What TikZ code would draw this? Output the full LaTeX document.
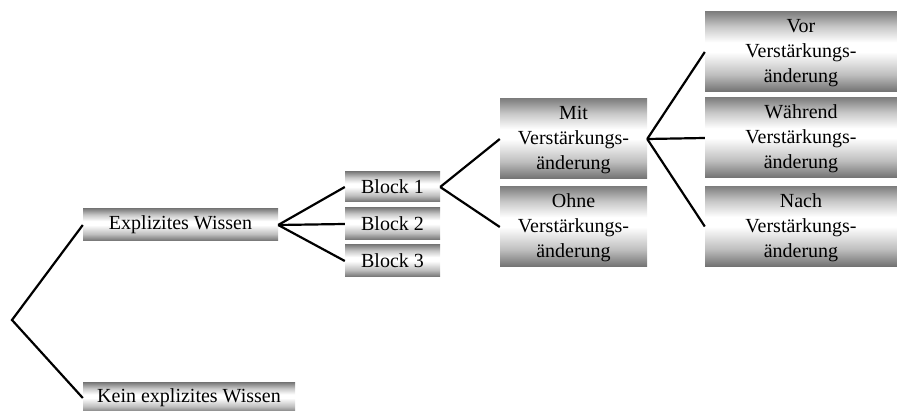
\documentclass[tikz,border=0pt]{standalone}
\usepackage{fontspec}
\setmainfont{Liberation Serif}
\colorlet{metaltop}{black!50}
\colorlet{metalbot}{black!56}
% chrome-like bar: dark edges, white band slightly above the middle
\pgfdeclareverticalshading{metalbar}{100bp}{%
  color(0bp)=(metalbot); color(25bp)=(metalbot); color(36bp)=(black!25);
  color(50bp)=(white); color(56bp)=(white); color(66bp)=(black!22);
  color(75bp)=(metaltop); color(100bp)=(metaltop)}
% a little extra room above the first line of the three-line labels
\newcommand{\firstline}{\rule{0pt}{16pt}}
\tikzset{
  bar/.style={shading=metalbar, inner sep=0pt, align=center,
    font=\fontsize{20}{25}\selectfont},
  link/.style={line width=2.2pt, black}
}
\begin{document}
\begin{tikzpicture}[x=1pt, y=-1pt]
  \useasboundingbox (0,0) rectangle (897,411);
  \begin{scope}
    \clip (0,0) rectangle (897,411);
    % first level
    \node[bar, minimum width=195pt, minimum height=32pt] (expl) at (180.5,225) {Explizites Wissen};
    \node[bar, minimum width=212pt, minimum height=30pt] (kein) at (189,398) {Kein explizites Wissen};
    % blocks
    \node[bar, minimum width=95pt, minimum height=30pt] (b1) at (392.5,187) {Block 1};
    \node[bar, minimum width=95pt, minimum height=32pt] (b2) at (392.5,224) {Block 2};
    \node[bar, minimum width=95pt, minimum height=32pt] (b3) at (392.5,261) {Block 3};
    % with / without change
    \node[bar, minimum width=147pt, minimum height=80pt] (mit) at (573.5,139) {\firstline Mit\\Verstärkungs-\\änderung};
    \node[bar, minimum width=147pt, minimum height=80pt] (ohne) at (573.5,227) {\firstline Ohne\\Verstärkungs-\\änderung};
    % timing
    \node[bar, minimum width=192pt, minimum height=80pt] (vor) at (801,52) {\firstline Vor\\Verstärkungs-\\änderung};
    \node[bar, minimum width=192pt, minimum height=80pt] (waehrend) at (801,138) {\firstline Während\\Verstärkungs-\\änderung};
    \node[bar, minimum width=192pt, minimum height=80pt] (nach) at (801,226.5) {\firstline Nach\\Verstärkungs-\\änderung};
    \coordinate (root) at (12,320);
    % connectors
    \draw[link] (expl.west) -- (root) -- (kein.west);
    \draw[link] (expl.east) -- (b1.west);
    \draw[link] (expl.east) -- (b2.west);
    \draw[link] (expl.east) -- (b3.west);
    \draw[link] (b1.east) -- (mit.west);
    \draw[link] (b1.east) -- (ohne.west);
    \draw[link] (mit.east) -- (vor.west);
    \draw[link] (mit.east) -- (waehrend.west);
    \draw[link] (mit.east) -- (nach.west);
  \end{scope}
\end{tikzpicture}
\end{document}
